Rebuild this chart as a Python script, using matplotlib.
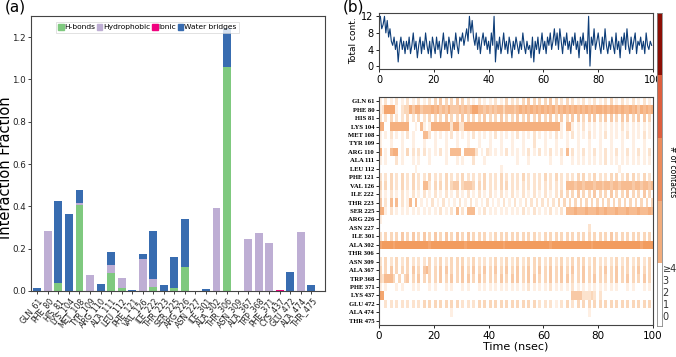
import numpy as np
import matplotlib
matplotlib.use("Agg")
import matplotlib.pyplot as plt
from matplotlib.colors import LinearSegmentedColormap, ListedColormap
from matplotlib.patches import Patch

# ---------------- data: panel (a) ----------------
residues = ["GLN_61", "PHE_80", "HIS_81", "LYS_104", "MET_108", "TYR_109", "ARG_110",
            "ALA_111", "LEU_112", "PHE_121", "VAL_126", "ILE_222", "THR_223", "SER_225",
            "ARG_226", "ASN_227", "ILE_301", "ALA_302", "THR_306", "ASN_309", "ALA_367",
            "TRP_368", "PHE_371", "CYS_437", "GLU_472", "ALA_474", "THR_475"]
hbonds = [0.0, 0.0, 0.036, 0.0, 0.406, 0.0, 0.0, 0.087, 0.013, 0.0, 0.0, 0.02, 0.0, 0.016,
          0.115, 0.0, 0.0, 0.0, 1.06, 0.0, 0.0, 0.0, 0.0, 0.0, 0.0, 0.0, 0.0]
hydrophobic = [0.0, 0.285, 0.0, 0.0, 0.011, 0.076, 0.0, 0.036, 0.047, 0.0, 0.153, 0.037, 0.0, 0.0,
               0.0, 0.0, 0.0, 0.392, 0.0, 0.0, 0.245, 0.275, 0.225, 0.0, 0.0, 0.279, 0.0]
ionic = [0.0, 0.0, 0.0, 0.0, 0.0, 0.0, 0.0, 0.0, 0.0, 0.0, 0.0, 0.0, 0.0, 0.0,
         0.0, 0.0, 0.0, 0.0, 0.0, 0.0, 0.0, 0.0, 0.0, 0.004, 0.0, 0.0, 0.0]
water = [0.016, 0.0, 0.389, 0.364, 0.06, 0.0, 0.033, 0.063, 0.0, 0.003, 0.022, 0.226, 0.028, 0.143,
         0.224, 0.0, 0.008, 0.0, 0.181, 0.002, 0.0, 0.0, 0.0, 0.0, 0.091, 0.0, 0.028]

# ---------------- data: panel (b) ----------------
total_contacts = [
    11, 12, 9, 10, 12, 8, 11, 7, 9, 6,
    5, 7, 4, 6, 1, 5, 7, 4, 6, 3,
    6, 4, 7, 3, 5, 8, 4, 6, 2, 5,
    7, 3, 6, 4, 8, 5, 3, 6, 2, 7,
    5, 3, 7, 4, 6, 2, 5, 8, 4, 6,
    3, 7, 5, 2, 6, 4, 8, 5, 3, 7,
    6, 8, 5, 7, 9, 6, 12, 8, 11, 7,
    5, 8, 4, 7, 3, 6, 8, 5, 7, 4,
    6, 3, 8, 5, 12, 1, 6, 4, 7, 3,
    5, 8, 4, 6, 3, 7, 5, 2, 6, 4,
    7, 5, 3, 6, 4, 8, 5, 3, 6, 4,
    5, 2, 7, 1, 6, 4, 7, 3, 5, 8,
    4, 6, 3, 7, 5, 8, 4, 6, 9, 5,
    8, 4, 9, 6, 3, 7, 5, 8, 4, 6,
    3, 7, 5, 8, 4, 6, 2, 7, 5, 8,
    4, 6, 3, 12, 0, 7, 5, 9, 4, 6,
    8, 5, 3, 7, 4, 9, 5, 3, 6, 4,
    7, 5, 3, 8, 4, 6, 2, 7, 5, 8,
    4, 9, 5, 3, 7, 4, 6, 8, 3, 6,
    5, 7, 4, 6, 3, 8, 5, 4, 6, 5]
time_step = 0.5  # nsec per sample

contact_residues = ["GLN 61", "PHE 80", "HIS 81", "LYS 104", "MET 108", "TYR 109", "ARG 110",
                    "ALA 111", "LEU 112", "PHE 121", "VAL 126", "ILE 222", "THR 223", "SER 225",
                    "ARG 226", "ASN 227", "ILE 301", "ALA 302", "THR 306", "ASN 309", "ALA 367",
                    "TRP 368", "PHE 371", "LYS 437", "GLU 472", "ALA 474", "THR 475"]
# contact intensity per 1-ns bin (0 = none ... 9 = continuous)
contact_rows = [
    "1020102010 2010201020 3040303040 3020102010 1020103020 2030403030 3040302030 2010201020 1020301020 1020102010",
    "1277771023 3646645556 5645464445 4545775545 4545535554 5656565656 5656465656 5656565656 6565656565 5656465656",
    "2020302020 3020302030 3030403030 4030303040 3030403030 4030403040 3040304030 4040304040 3040403040 4030404030",
    "6600666666 6001051016 6666662662 2666666666 6666666666 6666666666 6666661055 1010201010 1010101020 1010101010",
    "1010201010 2010005520 1010102010 1010201010 1020101010 2010102010 1010201010 2010102010 1020101010 2010102010",
    "1000100010 0010001000 1000100010 0010001000 1000100010 0010002000 1000100010 0010001000 1000100010 0010001000",
    "6010566010 3020202010 1020105555 0555520102 1010102010 1010201020 1020102050 2010201020 1020102010 2010201020",
    "1010002010 0010100010 0000100010 1000200010 0000000000 1000100000 0010001000 1010101010 1020101010 1010101010",
    "0000000000 0001000000 0000000000 0000000000 0000100000 0000000000 0000000000 0000000000 0000000100 0000000000",
    "2020302030 2030202030 2020302020 3020202030 2020302020 2030202020 3020302020 2030302030 2020303020 3030203020",
    "3030302030 2030205520 3030303440 3444303030 2020303020 2020202020 2020202055 5455455545 5455455455 5545545545",
    "2010201020 1020102010 2010201020 1020102010 2010201020 1020102010 2010203030 3040303040 3030403030 4030304030",
    "4020505020 1505010102 0102010102 0102010102 0101020102 0102020202 0202030303 0303030303 0303030303 0303030303",
    "6610201010 1010101010 1020102050 2055501020 1010101010 1020102010 1020102055 5655565556 5565556555 6555655565",
    "1000000000 0000000000 0000000000 0000000000 0000000000 0000000000 0000000000 0000000000 0000000000 0000000000",
    "0000000000 0000000000 0000000000 0000000000 0000000000 0000000000 0000000000 0000002000 0000000000 0000000000",
    "2030303040 3040304030 4030403040 3040303030 2030303030 3030303020 3030303030 3030303030 3030403030 3030303030",
    "7888878888 8888888878 8888888888 8788888888 8888878888 8888888888 8878888888 8888888788 8888888888 8888878888",
    "0000000000 0000000000 0000000000 0000000000 0000000000 0000000000 0000000000 0000000000 0000000000 0000000000",
    "2030203020 3020202030 2030203030 3020302020 2030203020 3020303030 2030203020 3030302030 2020203020 3020302030",
    "3030403030 3040304530 3040403030 4030403040 3040304030 4030403040 3040304030 4030403030 3040304030 3030403030",
    "3255530303 4030403030 3040304030 4040304030 3030403040 4030404030 3040304040 3030403040 3030304030 4030304030",
    "1010001010 0010100010 1000101000 1010001010 1010101010 1010201010 1020101010 2010101010 1010101000 1010001010",
    "7700000000 0000000000 0000000000 0000000000 0000000000 0000000000 0000000000 4444222320 2000000000 0000000000",
    "0020202020 2020203030 3030303030 2020203030 3030303030 3030303020 2020102030 2030303030 3030303030 3030303030",
    "0000000000 0000000000 0000001000 0000000000 0000000000 0000000000 0000000000 0000001000 0000000000 0000000000",
    "0000000000 0000000000 0000000000 0000000000 0000000000 0000000000 0000000000 0000000000 0000000000 0000000000",
]
contact_levels = ["0", "1", "2", "3", "\u22654"]
contact_level_colors = ["#ffffff", "#f2ad7d", "#ec8c5c", "#dd5f3e", "#8c0f05"]

# ---------------- figure ----------------
W, H = 676, 357
fig = plt.figure(figsize=(W / 100, H / 100), dpi=100)

def rect(x0, y0, x1, y1):
    return [x0 / W, 1 - y1 / H, (x1 - x0) / W, (y1 - y0) / H]

spine_col = "#444444"

# ---- panel (a) ----
axa = fig.add_axes(rect(31, 16, 325, 291))
colors = {"H-bonds": "#7fc97f", "Hydrophobic": "#beaed4", "Ionic": "#f0027f", "Water bridges": "#386cb0"}
x = np.arange(len(residues))
bottom = np.zeros(len(residues))
for name, vals in [("H-bonds", hbonds), ("Hydrophobic", hydrophobic), ("Ionic", ionic), ("Water bridges", water)]:
    v = np.array(vals)
    axa.bar(x, v, 0.75, bottom=bottom, color=colors[name], label=name)
    bottom += v
axa.set_xlim(-0.6, 27.3)
axa.set_ylim(0, 1.3)
axa.set_yticks(np.arange(0, 1.21, 0.2))
axa.set_yticklabels([f"{t:.1f}" for t in np.arange(0, 1.21, 0.2)], fontsize=6.3)
axa.set_xticks(x)
axa.set_xticklabels(residues, rotation=50, ha="right", fontsize=5.7, rotation_mode="anchor")
axa.tick_params(axis="both", length=2.5, width=0.6, pad=1.2, colors="#222222")
for s in axa.spines.values():
    s.set_color(spine_col)
    s.set_linewidth(0.8)
axa.set_ylabel("Interaction Fraction", fontsize=10.5)
axa.yaxis.set_label_coords(-0.062, 0.45)
handles = [Patch(color=colors[k]) for k in colors]
leg = axa.legend(handles, list(colors.keys()), loc="upper left", bbox_to_anchor=(0.08, 0.985), ncol=4,
                 fontsize=5.4, frameon=True, handlelength=0.7, handleheight=0.8,
                 handletextpad=0.15, columnspacing=0.2, borderpad=0.3, fancybox=False, borderaxespad=0.2)
leg.get_frame().set_linewidth(0.5)
leg.get_frame().set_edgecolor("#cccccc")
fig.text(5 / W, 1 - 12 / H, "(a)", fontsize=11)

# ---- panel (b) top: total contacts ----
axt = fig.add_axes(rect(379, 13, 653, 69))
t = np.arange(len(total_contacts)) * time_step
axt.plot(t, total_contacts, color="#0d3d78", lw=0.8)
axt.set_xlim(0, 100)
axt.set_ylim(-0.7, 12.8)
axt.set_yticks([0, 4, 8, 12])
axt.set_xticks(np.arange(0, 101, 20))
axt.tick_params(axis="both", labelsize=7, length=2.5, width=0.6, pad=1.5)
axt.set_ylabel("Total cont.", fontsize=6.5, labelpad=2)
for s in axt.spines.values():
    s.set_color(spine_col)
    s.set_linewidth(0.8)
fig.text(343 / W, 1 - 12 / H, "(b)", fontsize=11)

# ---- panel (b) heatmap ----
axh = fig.add_axes(rect(379, 97, 653, 325))
data = np.array([[int(c) for c in r.replace(" ", "")] for r in contact_rows], dtype=float)
cmap_h = LinearSegmentedColormap.from_list(
    "wo", [(0.0, "#ffffff"), (0.12, "#feefe3"), (0.35, "#fbd8bb"), (0.65, "#f6b587"), (1.0, "#f29858")])
axh.imshow(data, aspect="auto", cmap=cmap_h, vmin=0, vmax=8.5, interpolation="nearest",
           extent=(0, 100, len(contact_residues) - 0.5, -0.5))
axh.set_xlim(0, 100)
axh.set_yticks(np.arange(len(contact_residues)))
axh.set_yticklabels(contact_residues, fontsize=4.8, family="Liberation Serif", fontweight="bold")
axh.set_xticks(np.arange(0, 101, 20))
axh.tick_params(axis="x", labelsize=7.5, length=2.5, width=0.6, pad=1.5)
axh.tick_params(axis="y", length=2.5, width=0.6, pad=1)
axh.set_xlabel("Time (nsec)", fontsize=8, labelpad=1)
for s in axh.spines.values():
    s.set_color(spine_col)
    s.set_linewidth(0.8)

# ---- colorbar ----
axc = fig.add_axes(rect(656.5, 13, 661.5, 326))
axc.imshow(np.arange(len(contact_levels))[::-1].reshape(-1, 1), aspect="auto",
           cmap=ListedColormap(contact_level_colors), vmin=-0.5, vmax=len(contact_levels) - 0.5,
           interpolation="nearest")
axc.set_xticks([])
axc.set_yticks([])
for s in axc.spines.values():
    s.set_color("#888888")
    s.set_linewidth(0.6)
label_y = [317, 305, 293, 281, 269]
for lab, yy in zip(contact_levels, label_y):
    fig.text(662.5 / W, 1 - yy / H, lab, fontsize=7, va="center", ha="left", color="#333333")
fig.text(672 / W, 1 - 172 / H, "# of contacts", fontsize=5.5, rotation=-90, va="center", ha="center")

fig.savefig("out.png", dpi=100)
